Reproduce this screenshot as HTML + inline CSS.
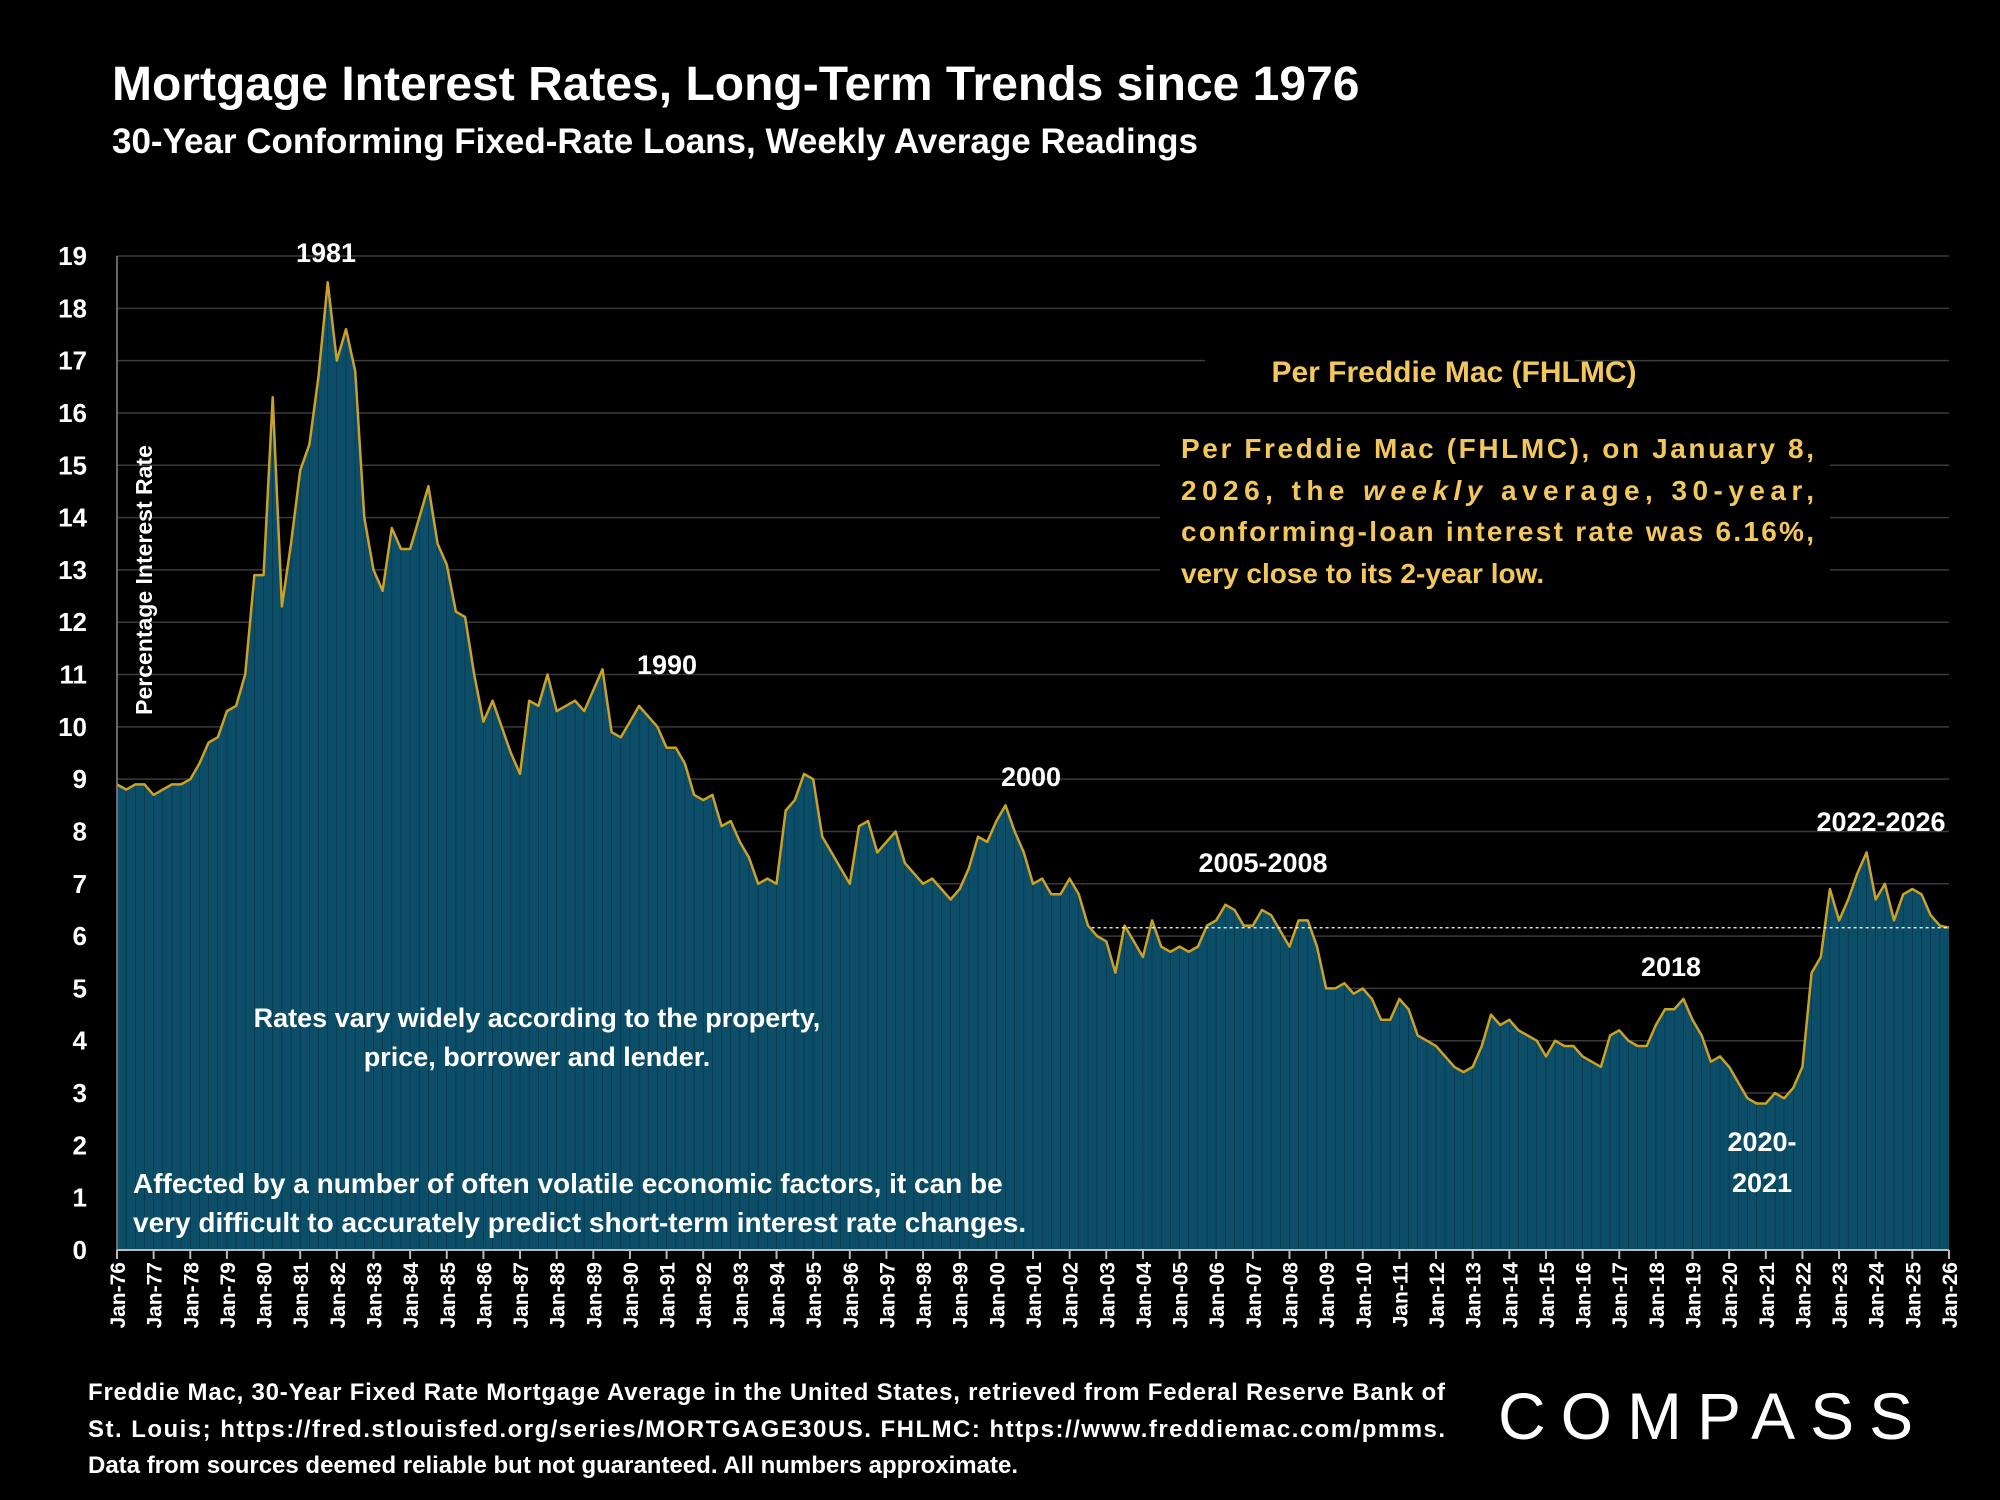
<!DOCTYPE html>
<html><head><meta charset="utf-8">
<style>
html,body{margin:0;padding:0;background:#000;}
svg{display:block;font-family:"Liberation Sans",sans-serif;font-weight:bold;}
</style></head>
<body>
<svg id="chart" width="2000" height="1500" viewBox="0 0 2000 1500" xmlns="http://www.w3.org/2000/svg">
<rect width="2000" height="1500" fill="#000"/>
<text x="112" y="100" fill="#fff" font-size="48">Mortgage Interest Rates, Long-Term Trends since 1976</text>
<text x="112" y="153" fill="#fff" font-size="35">30-Year Conforming Fixed-Rate Loans, Weekly Average Readings</text>
<g id="grid"></g>
<g id="bars"></g>
<path id="line" fill="none" stroke="#c9a227" stroke-width="2.5" stroke-linejoin="round"/>
<line id="refline" stroke="#fff" stroke-width="1.2" stroke-dasharray="3,3"/>
<g id="axes"></g>
<text transform="translate(152,580) rotate(-90)" text-anchor="middle" fill="#fff" font-size="23">Percentage Interest  Rate</text>
<g fill="#fff" font-size="27" text-anchor="middle">
<text x="326" y="262">1981</text>
<text x="667" y="674">1990</text>
<text x="1031" y="786">2000</text>
<text x="1263" y="872">2005-2008</text>
<text x="1671" y="976">2018</text>
<text x="1762" y="1151">2020-</text>
<text x="1762" y="1192">2021</text>
<text x="1881" y="831">2022-2026</text>
</g>
<rect x="1205" y="345" width="370" height="50" fill="#000"/>
<rect x="1160" y="418" width="670" height="180" fill="#000"/>
<text x="1454" y="382" text-anchor="middle" fill="#f2c75c" font-size="30">Per Freddie Mac (FHLMC)</text>
<g fill="#f2c75c" font-size="28">
<text x="1181" y="458" textLength="633" lengthAdjust="spacing">Per Freddie Mac (FHLMC), on January 8,</text>
<text x="1181" y="500" textLength="633" lengthAdjust="spacing">2026, the <tspan font-style="italic">weekly</tspan> average, 30-year,</text>
<text x="1181" y="541" textLength="633" lengthAdjust="spacing">conforming-loan interest rate was 6.16%,</text>
<text x="1181" y="583">very close to its 2-year low.</text>
</g>
<g fill="#fff" font-size="27" text-anchor="middle">
<text x="537" y="1027">Rates vary widely according to the property,</text>
<text x="537" y="1066">price, borrower and lender.</text>
</g>
<g fill="#fff" font-size="28">
<text x="133" y="1193">Affected by a number of often volatile economic factors, it can be</text>
<text x="133" y="1232">very difficult to accurately predict short-term interest rate changes.</text>
</g>
<g fill="#fff" font-size="24">
<text x="88" y="1400" textLength="1357" lengthAdjust="spacing">Freddie Mac, 30-Year Fixed Rate Mortgage Average in the United States, retrieved from Federal Reserve Bank of</text>
<text x="88" y="1437" textLength="1357" lengthAdjust="spacing">St. Louis; https://fred.stlouisfed.org/series/MORTGAGE30US. FHLMC: https://www.freddiemac.com/pmms.</text>
<text x="88" y="1473">Data from sources deemed reliable but not guaranteed. All numbers approximate.</text>
</g>
<text x="1498" y="1439" fill="#fff" font-size="66" font-weight="normal" letter-spacing="15">COMPASS</text>
</svg>
<script>
const yTicks=[0,1,2,3,4,5,6,7,8,9,10,11,12,13,14,15,16,17,18,19];
const xYears=[];for(let y=76;y<=126;y++)xYears.push(y);
const startYear=1976;
const rates=[
8.9,8.8,8.9,8.9, 8.7,8.8,8.9,8.9, 9.0,9.3,9.7,9.8, 10.3,10.4,11.0,12.9,
12.9,16.3,12.3,13.5, 14.9,15.4,16.7,18.5, 17.0,17.6,16.8,14.0, 13.0,12.6,13.8,13.4,
13.4,14.0,14.6,13.5, 13.1,12.2,12.1,11.0, 10.1,10.5,10.0,9.5, 9.1,10.5,10.4,11.0,
10.3,10.4,10.5,10.3, 10.7,11.1,9.9,9.8, 10.1,10.4,10.2,10.0, 9.6,9.6,9.3,8.7,
8.6,8.7,8.1,8.2, 7.8,7.5,7.0,7.1, 7.0,8.4,8.6,9.1, 9.0,7.9,7.6,7.3,
7.0,8.1,8.2,7.6, 7.8,8.0,7.4,7.2, 7.0,7.1,6.9,6.7, 6.9,7.3,7.9,7.8,
8.2,8.5,8.0,7.6, 7.0,7.1,6.8,6.8, 7.1,6.8,6.2,6.0, 5.9,5.3,6.2,5.9,
5.6,6.3,5.8,5.7, 5.8,5.7,5.8,6.2, 6.3,6.6,6.5,6.2, 6.2,6.5,6.4,6.1,
5.8,6.3,6.3,5.8, 5.0,5.0,5.1,4.9, 5.0,4.8,4.4,4.4, 4.8,4.6,4.1,4.0,
3.9,3.7,3.5,3.4, 3.5,3.9,4.5,4.3, 4.4,4.2,4.1,4.0, 3.7,4.0,3.9,3.9,
3.7,3.6,3.5,4.1, 4.2,4.0,3.9,3.9, 4.3,4.6,4.6,4.8, 4.4,4.1,3.6,3.7,
3.5,3.2,2.9,2.8, 2.8,3.0,2.9,3.1, 3.5,5.3,5.6,6.9, 6.3,6.7,7.2,7.6,
6.7,7.0,6.3,6.8, 6.9,6.8,6.4,6.2, 6.16];
const currentRate=[6.16];
const refStartYear=[2002.6];

const X0=117,X1=1949,Y0=1250,Y19=256;
const xs=t=>X0+(t-startYear)/50*(X1-X0);
const ys=v=>Y0-v/19*(Y0-Y19);
const NS="http://www.w3.org/2000/svg";
function mk(tag,attrs,parent){const e=document.createElementNS(NS,tag);for(const k in attrs)e.setAttribute(k,attrs[k]);parent.appendChild(e);return e;}

const grid=document.getElementById('grid');
yTicks.forEach(v=>{
  if(v===0)return;
  const l=mk('line',{x1:X0,x2:X1,y1:ys(v),y2:ys(v),stroke:'#3a3a3a','stroke-width':1.5},grid);
  
  
});
const bars=document.getElementById('bars');
const n=rates.length;
const tOf=i=>startYear+i*0.25;
let d='';
rates.forEach((v,i)=>{
  const t=tOf(i);
  const x=xs(t);
  if(i<n-1){
    const w=xs(tOf(i+1))-x;
    const next=rates[i+1];
    const r=mk('path',{d:`M${x},${Y0}L${x},${ys(v)}L${x+w},${ys(next)}L${x+w},${Y0}Z`,fill:'#0c4d68',stroke:'#083549','stroke-width':0.6},bars);
    
    
  }
  d+=(i?'L':'M')+x.toFixed(1)+','+ys(v).toFixed(1);
});
document.getElementById('line').setAttribute('d',d);
const rl=document.getElementById('refline');
rl.setAttribute('x1',xs(refStartYear[0]));rl.setAttribute('x2',X1);
rl.setAttribute('y1',ys(currentRate[0]));rl.setAttribute('y2',ys(currentRate[0]));

const axes=document.getElementById('axes');
mk('line',{x1:X0,x2:X0,y1:Y19,y2:Y0,stroke:'#888','stroke-width':1.5},axes);
mk('line',{x1:X0,x2:X1,y1:Y0,y2:Y0,stroke:'#bbb','stroke-width':2},axes);
yTicks.forEach(v=>{
  const t=mk('text',{x:87,y:ys(v)+9,'text-anchor':'end',fill:'#fff','font-size':26},axes);
  t.textContent=v;
  
  
});
xYears.forEach(y=>{
  const yr=1900+y;
  const x=xs(yr);
  mk('line',{x1:x,x2:x,y1:Y0,y2:Y0+9,stroke:'#bbb','stroke-width':2},axes);
  const t=mk('text',{transform:`translate(${x+8},${Y0+12}) rotate(-90)`,'text-anchor':'end',fill:'#fff','font-size':21},axes);
  t.textContent='Jan-'+String(y%100).padStart(2,'0');
  
  
});
</script>
</body></html>
